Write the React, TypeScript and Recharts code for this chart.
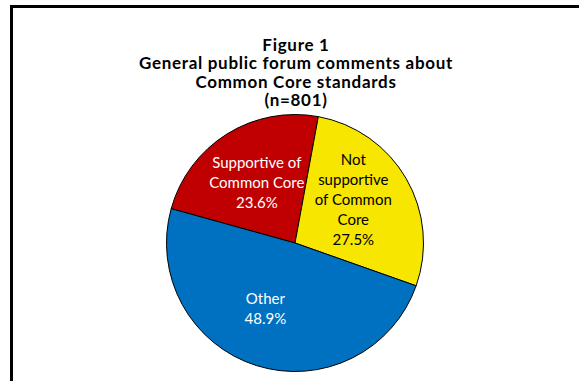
import { PieChart, Pie, Cell } from "recharts";

const categories = [
  "Supportive of Common Core",
  "Not supportive of Common Core",
  "Other",
];
const shares = [23.6, 27.5, 48.9];
const labelLines = [
  ["Supportive of", "Common Core"],
  ["Not", "supportive", "of Common", "Core"],
  ["Other"],
];
const colors = ["#C00000", "#F7E600", "#0070C0"];
const textColors = ["#ffffff", "#000000", "#ffffff"];
const titleLines = [
  "Figure 1",
  "General public forum comments about",
  "Common Core standards",
  "(n=801)",
];

const data = categories.map((name, i) => ({
  name,
  value: shares[i],
}));

const FONT = "Lato, 'Open Sans', sans-serif";
const RAD = Math.PI / 180;
// small nudges so labels sit where Excel's best-fit put them
const nudge = [
  [0, 0],
  [-4, -8],
  [-8, -4],
];

function renderLabel(props: any) {
  const { cx, cy, midAngle, outerRadius, index, value } = props;
  const r = outerRadius * 0.56;
  const x = cx + r * Math.cos(-midAngle * RAD) + nudge[index][0];
  const y = cy + r * Math.sin(-midAngle * RAD) + nudge[index][1];
  const lines = [...labelLines[index], value.toFixed(1) + "%"];
  const lh = 20;
  const top = y - ((lines.length - 1) * lh) / 2;
  return (
    <text
      x={x}
      y={top}
      textAnchor="middle"
      fill={textColors[index]}
      fontFamily={FONT}
      fontSize={15}
    >
      {lines.map((l, i) => (
        <tspan key={i} x={x} y={top + i * lh} dominantBaseline="central">
          {l}
        </tspan>
      ))}
    </text>
  );
}

export default function App() {
  return (
    <div
      style={{
        position: "absolute",
        left: 0,
        top: 0,
        width: 579,
        height: 381,
        overflow: "hidden",
        background: "#fff",
      }}
    >
      <div
        style={{
          position: "absolute",
          left: 10,
          top: 5,
          width: 600,
          height: 400,
          borderTop: "3px solid #000",
          borderLeft: "3px solid #000",
        }}
      />
      <div
        style={{
          position: "absolute",
          left: 0,
          width: 592,
          top: 35.75,
          textAlign: "center",
          fontFamily: FONT,
          fontWeight: "bold",
          fontSize: 17,
          letterSpacing: 0.7,
          lineHeight: "18.5px",
          color: "#000",
        }}
      >
        {titleLines.map((t, i) => (
          <span key={i}>
            {t}
            {i < titleLines.length - 1 && <br />}
          </span>
        ))}
      </div>
      <div style={{ position: "absolute", left: 0, top: 0 }}>
        <PieChart
          width={579}
          height={381}
          margin={{ top: 0, right: 0, bottom: 0, left: 0 }}
        >
          <Pie
            data={data}
            dataKey="value"
            cx={295}
            cy={243}
            outerRadius={128.5}
            startAngle={-195.5}
            endAngle={-555.5}
            stroke="#000"
            strokeWidth={1}
            label={renderLabel}
            labelLine={false}
            isAnimationActive={false}
          >
            {data.map((d, i) => (
              <Cell key={d.name} fill={colors[i]} />
            ))}
          </Pie>
        </PieChart>
      </div>
    </div>
  );
}
